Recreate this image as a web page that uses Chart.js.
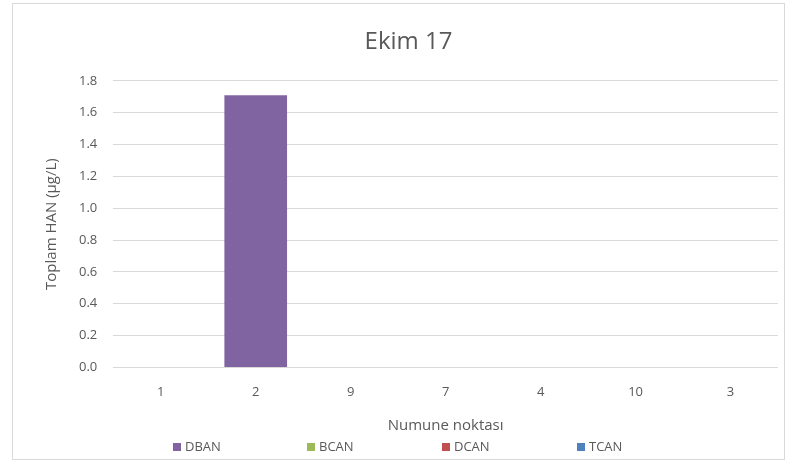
<!DOCTYPE html>
<html>
<head>
<meta charset="utf-8">
<script src="https://cdn.jsdelivr.net/npm/chart.js@4"></script>
<style>
  html, body { margin: 0; padding: 0; background: #fff; }
  #kutu {
    position: absolute; left: 12px; top: 3px;
    width: 771px; height: 455px;
    border: 1px solid #d9d9d9; background: #fff;
  }
  #lejant {
    position: absolute; left: 0; top: 433px; width: 100%; height: 20px;
    font: 13px 'Open Sans', 'Liberation Sans', sans-serif; color: #595959;
  }
  #lejant span { position: absolute; top: 0; white-space: nowrap; }
  #lejant i {
    display: inline-block; width: 8px; height: 8px; margin-right: 4px;
    vertical-align: 0px;
  }
</style>
</head>
<body>
<div id="kutu">
  <canvas id="cvs_han"></canvas>
  <div id="lejant"></div>
</div>
<script>
// Ekim 17 - numune noktalarına göre toplam HAN
const noktalar = ["1", "2", "9", "7", "4", "10", "3"];
const dban = [0, 1.71, 0, 0, 0, 0, 0];
const bcan = [0, 0, 0, 0, 0, 0, 0];
const dcan = [0, 0, 0, 0, 0, 0, 0];
const tcan = [0, 0, 0, 0, 0, 0, 0];
const yTikler = [0, 0.2, 0.4, 0.6, 0.8, 1.0, 1.2, 1.4, 1.6, 1.8];

const yazi = "#595959";
const cizgi = "#d9d9d9";
const font = "'Open Sans', 'Liberation Sans', sans-serif";

const grafik = new Chart(document.getElementById("cvs_han"), {
    type: "bar",
    data: {
        labels: noktalar,
        datasets: [
            { label: "DBAN", data: dban, backgroundColor: "#8064a2" },
            { label: "BCAN", data: bcan, backgroundColor: "#9bbb59" },
            { label: "DCAN", data: dcan, backgroundColor: "#c0504d" },
            { label: "TCAN", data: tcan, backgroundColor: "#4f81bd" },
        ],
    },
    options: {
        responsive: true,
        maintainAspectRatio: false,
        animation: false,
        datasets: { bar: { categoryPercentage: 0.66, barPercentage: 1.0 } },
        layout: { padding: { left: 26, right: 6, top: 8, bottom: 24 } },
        plugins: {
            title: {
                display: true,
                text: "Ekim 17",
                color: yazi,
                font: { size: 24, family: font, weight: "normal" },
                padding: { top: 16, bottom: 24 },
            },
            legend: { display: false },
        },
        scales: {
            x: {
                stacked: true,
                grid: { display: false, drawTicks: false },
                border: { display: false },
                ticks: { color: yazi, font: { size: 13, family: font }, padding: 17 },
                title: {
                    display: true,
                    text: "Numune noktası",
                    color: yazi,
                    font: { size: 15, family: font },
                    padding: { top: 0, bottom: 0 },
                },
            },
            y: {
                stacked: true,
                min: 0,
                max: 1.8,
                afterBuildTicks: (ax) => { ax.ticks = yTikler.map(v => ({ value: v })); },
                grid: { color: cizgi, drawTicks: false },
                border: { display: false },
                ticks: {
                    color: yazi,
                    font: { size: 13, family: font },
                    padding: 16,
                    callback: (v) => Number(v).toFixed(1),
                },
                title: {
                    display: true,
                    text: "Toplam HAN (µg/L)",
                    color: yazi,
                    font: { size: 15, family: font },
                    padding: { bottom: 2 },
                },
            },
        },
    },
});

// lejant: Excel gibi geniş aralıklı, veri setlerinden üretiliyor
const lejant = document.getElementById("lejant");
const lejantX = [160, 294, 429, 564];
grafik.data.datasets.forEach((ds, i) => {
    const s = document.createElement("span");
    s.style.left = lejantX[i] + "px";
    s.innerHTML = `<i style="background:${ds.backgroundColor}"></i>${ds.label}`;
    lejant.appendChild(s);
});
</script>
</body>
</html>
